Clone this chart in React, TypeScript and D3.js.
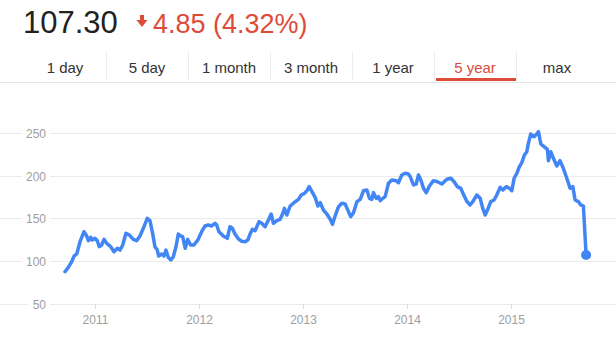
import React from "react";
import * as d3 from "d3";

// Price series: dates as decimal years, close values
const years: number[] = [
  2010.711, 2010.743, 2010.776, 2010.798, 2010.824, 2010.856, 2010.894, 2010.92, 2010.936, 2010.959, 2010.974,
  2011.0, 2011.022, 2011.041, 2011.064, 2011.087, 2011.113, 2011.151, 2011.183, 2011.215, 2011.241, 2011.267,
  2011.298, 2011.33, 2011.369, 2011.401, 2011.433, 2011.472, 2011.503, 2011.529, 2011.555, 2011.577, 2011.6,
  2011.613, 2011.642, 2011.664, 2011.683, 2011.705, 2011.731, 2011.754, 2011.78, 2011.802, 2011.825, 2011.844,
  2011.869, 2011.892, 2011.921, 2011.953, 2011.994,
  2012.027, 2012.059, 2012.09, 2012.123, 2012.155, 2012.171, 2012.193, 2012.235, 2012.273, 2012.299, 2012.321,
  2012.347, 2012.379, 2012.412, 2012.444, 2012.47, 2012.492, 2012.514, 2012.54, 2012.578, 2012.604, 2012.636,
  2012.668, 2012.694, 2012.716, 2012.749, 2012.781, 2012.807, 2012.822, 2012.845, 2012.877, 2012.925, 2012.957,
  2012.983, 2013.014, 2013.038, 2013.06, 2013.086, 2013.117, 2013.143, 2013.166, 2013.197, 2013.23, 2013.262,
  2013.284, 2013.31, 2013.342, 2013.374, 2013.406, 2013.438, 2013.461, 2013.486, 2013.519, 2013.551, 2013.583,
  2013.615, 2013.64, 2013.663, 2013.679, 2013.705, 2013.727, 2013.743, 2013.769, 2013.791, 2013.823, 2013.856,
  2013.897, 2013.919, 2013.952, 2013.984, 2014.015, 2014.032, 2014.064, 2014.09, 2014.112, 2014.135, 2014.16,
  2014.186, 2014.218, 2014.256, 2014.295, 2014.337, 2014.385, 2014.424, 2014.455, 2014.487, 2014.52, 2014.545,
  2014.577, 2014.609, 2014.635, 2014.674, 2014.706, 2014.731, 2014.754, 2014.776, 2014.808, 2014.84, 2014.866,
  2014.898, 2014.924, 2014.956, 2014.988, 2015.011, 2015.033, 2015.059, 2015.084, 2015.107, 2015.132, 2015.155,
  2015.17, 2015.193, 2015.225, 2015.251, 2015.267, 2015.29, 2015.321, 2015.353, 2015.363, 2015.386, 2015.411,
  2015.444, 2015.475, 2015.507, 2015.54, 2015.572, 2015.598, 2015.62, 2015.652, 2015.675, 2015.7, 2015.726,
];
const prices: number[] = [
  87.7, 92.8, 99.4, 106, 108.4, 122.7, 134.4, 129.4, 123.9, 127.9, 124.7,
  126.7, 123.9, 116.9, 118.9, 125.5, 120.8, 116.9, 111, 115, 113, 118.9,
  132.5, 130.6, 125.5, 123.9, 129.4, 140.3, 150, 147.3, 132.5, 116.9, 113,
  106, 108.4, 106, 113, 104.5, 101.4, 105.2, 116.9, 131.7, 129.4, 128.6,
  115, 125.5, 118.9, 118.9, 125.5,
  134.4, 141.1, 142.2, 141.1, 144.2, 142.2, 134.4, 129.4, 126.7, 140.3, 138.4,
  131.7, 126.2, 123.2, 122.7, 124.7, 131.7, 137.2, 135.6, 146.1, 144.2, 140.3,
  148.1, 155.1, 144.2, 147.3, 148.9, 155.9, 161.7, 153.9, 164.4, 169.4, 172.2,
  177.3, 179.2, 182.3, 187, 181.2, 174.6, 164.4, 168.3, 159.7, 155.1, 149,
  143, 153, 163.6, 167.6, 166.8, 157.8, 152, 156.6, 169.5, 172.2, 182.3,
  183.1, 173.4, 172.2, 180, 173.4, 175.3, 170.6, 173.4, 175.3, 190.9, 194.8,
  194, 191.6, 200.6, 202.6, 201.8, 198.7, 189, 190.1, 200.6, 194.8, 185.1,
  180, 187.8, 194, 192.8, 190.1, 195.6, 196.8, 192.8, 187, 185, 178,
  170, 165.6, 169.5, 177.3, 173.4, 161.7, 153.9, 159.7, 169.5, 171.4, 177.3,
  186.2, 183.1, 187, 185.1, 182.3, 196.8, 202.6, 210.3, 215, 224, 227.8,
  237.6, 248.5, 245.3, 248.5, 251.2, 236.8, 233.7, 230.6, 217.3, 227.8, 220.1,
  211.1, 217.3, 208.4, 196.8, 185.1, 187, 171.4, 169.5, 165.6, 164.4, 107.3,
];

const yTicks: number[] = [50, 100, 150, 200, 250];
const xTickYears: number[] = [2011, 2012, 2013, 2014, 2015];
const tabs: string[] = ["1 day", "5 day", "1 month", "3 month", "1 year", "5 year", "max"];
const activeTab = "5 year";
const lastPrice = "107.30";
const change = "4.85 (4.32%)";

const W = 616;
const H = 346;
const FONT = "Arial, 'Liberation Sans', sans-serif";
const RED = "#dd4b39";
const BLUE = "#4285f4";

function decToDate(dy: number): Date {
  const y = Math.floor(dy);
  const start = new Date(y, 0, 1).getTime();
  const end = new Date(y + 1, 0, 1).getTime();
  return new Date(start + (dy - y) * (end - start));
}

export default function App() {
  const data = years.map((d, i) => ({ date: decToDate(d), value: prices[i] }));

  const x = d3
    .scaleTime()
    .domain([new Date(2011, 0, 1), new Date(2015, 0, 1)])
    .range([95, 510.7]);
  const y = d3.scaleLinear().domain([50, 250]).range([304, 132.7]);

  const line = d3
    .line<{ date: Date; value: number }>()
    .x((d) => x(d.date))
    .y((d) => y(d.value))
    .curve(d3.curveLinear);

  const last = data[data.length - 1];
  const tabW = 82;
  const tab0 = 24;

  return (
    <svg
      width={W}
      height={H}
      style={{ position: "absolute", left: 0, top: 0, background: "#fff" }}
      fontFamily={FONT}
    >
      <rect x={0} y={0} width={W} height={H} fill="#fff" />
      {/* Header */}
      <text x={23} y={33} fontSize={31} fill="#222">
        {lastPrice}
      </text>
      <path
        d="M140,15 L144,15 L144,20 L147.5,20 L142,27 L136.5,20 L140,20 Z"
        fill={RED}
      />
      <text x={153} y={33} fontSize={27} fill={RED}>
        {change}
      </text>

      {/* Tabs */}
      {tabs.map((t, i) => {
        const cx = tab0 + tabW * i + tabW / 2;
        const active = t === activeTab;
        return (
          <g key={t}>
            <text
              x={cx}
              y={73}
              fontSize={15}
              textAnchor="middle"
              fill={active ? RED : "#333"}
            >
              {t}
            </text>
            {i < tabs.length - 1 && (
              <line
                x1={tab0 + tabW * (i + 1) + 0.5}
                x2={tab0 + tabW * (i + 1) + 0.5}
                y1={52}
                y2={80}
                stroke="#ececec"
                strokeWidth={1}
              />
            )}
            {active && (
              <rect x={tab0 + tabW * i + 2} y={78} width={tabW - 2} height={3} fill={RED} />
            )}
          </g>
        );
      })}
      <line x1={0} x2={W} y1={82.5} y2={82.5} stroke="#e5e5e5" strokeWidth={1} />

      {/* Grid + y labels */}
      {yTicks.map((v) => {
        const yy = Math.round(y(v)) + 0.5;
        const label = String(v);
        const tw = label.length * 6.7;
        return (
          <g key={v}>
            <line x1={0} x2={W} y1={yy} y2={yy} stroke="#ebebeb" strokeWidth={1} />
            <rect x={46 - tw - 4} y={yy - 7} width={tw + 8} height={14} fill="#fff" />
            <text x={46} y={yy + 4} fontSize={12} textAnchor="end" fill="#9e9e9e">
              {label}
            </text>
          </g>
        );
      })}

      {/* X ticks */}
      {xTickYears.map((yr) => {
        const xx = Math.round(x(new Date(yr, 0, 1))) + 0.5;
        return (
          <g key={yr}>
            <line x1={xx} x2={xx} y1={304} y2={309} stroke="#dcdcdc" strokeWidth={1} />
            <text x={xx} y={324} fontSize={12} textAnchor="middle" fill="#9e9e9e">
              {yr}
            </text>
          </g>
        );
      })}

      {/* Price line */}
      <path
        d={line(data) || ""}
        fill="none"
        stroke={BLUE}
        strokeWidth={3.5}
        strokeLinejoin="round"
        strokeLinecap="round"
      />
      <circle cx={x(last.date)} cy={y(last.value)} r={5} fill={BLUE} />
    </svg>
  );
}
